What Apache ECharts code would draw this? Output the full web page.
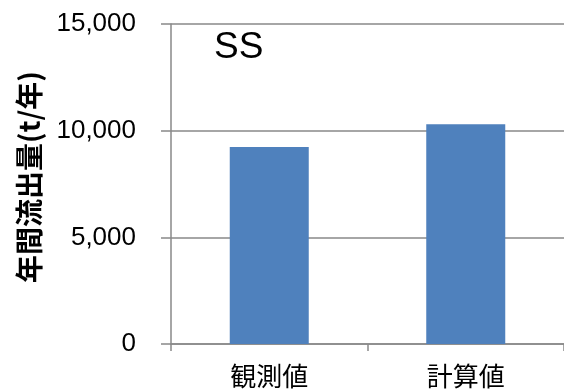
<!DOCTYPE html>
<html>
<head>
<meta charset="utf-8">
<script src="https://cdn.jsdelivr.net/npm/echarts@6/dist/echarts.min.js"></script>
<style>
  html, body { margin: 0; padding: 0; background: #fff; }
  #chart { width: 564px; height: 390px; }
</style>
</head>
<body>
<div id="chart"></div>
<script>
// Annual SS load: observed vs. calculated
const categories = ['観測値', '計算値'];
const annualLoad = [9230, 10300];
const yTicks = [0, 5000, 10000, 15000];

const axisGrey = '#898989';
const chart = echarts.init(document.getElementById('chart'), null, { renderer: 'canvas' });

chart.setOption({
  animation: false,
  backgroundColor: '#ffffff',
  title: {
    text: 'SS',
    left: 209,
    top: 24,
    textStyle: { fontFamily: 'Liberation Sans', fontSize: 37, fontWeight: 'normal', color: '#000' }
  },
  grid: { left: 171, top: 24, width: 394, height: 320 },
  xAxis: {
    type: 'category',
    data: categories,
    boundaryGap: true,
    axisLine: { show: true, lineStyle: { color: axisGrey, width: 1.5 } },
    axisTick: { show: true, alignWithLabel: false, length: 7, lineStyle: { color: axisGrey, width: 1.5 } },
    axisLabel: { margin: 19, fontFamily: 'Noto Sans CJK JP', fontSize: 26, color: '#000' }
  },
  yAxis: {
    type: 'value',
    min: yTicks[0],
    max: yTicks[yTicks.length - 1],
    interval: yTicks[1] - yTicks[0],
    axisLine: { show: true, lineStyle: { color: axisGrey, width: 1.5 } },
    axisTick: { show: true, length: 10, lineStyle: { color: axisGrey, width: 1.5 } },
    splitLine: { show: true, lineStyle: { color: axisGrey, width: 1.5 } },
    axisLabel: {
      margin: 35,
      fontFamily: 'Liberation Sans',
      fontSize: 26,
      color: '#000',
      formatter: v => v.toLocaleString('en-US')
    }
  },
  graphic: [{
    type: 'text',
    x: 29,
    y: 177,
    rotation: Math.PI / 2,
    style: {
      text: '年間流出量(t/年)',
      fontFamily: 'Noto Sans CJK JP',
      fontSize: 28,
      fontWeight: 'bold',
      fill: '#000',
      align: 'center',
      verticalAlign: 'middle'
    }
  }],
  series: [{
    type: 'bar',
    data: annualLoad,
    barWidth: 79,
    itemStyle: { color: '#4f81bd' }
  }]
});
</script>
</body>
</html>
